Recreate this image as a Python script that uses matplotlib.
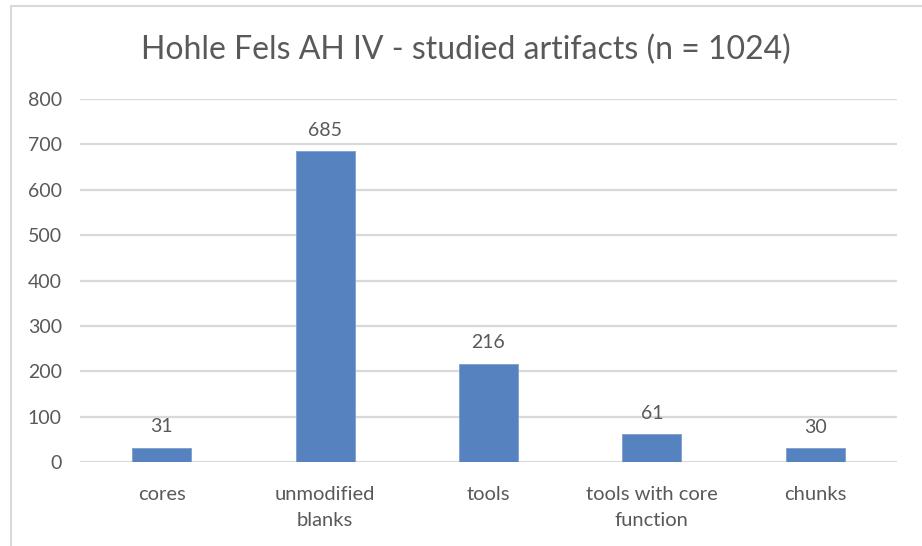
import matplotlib
matplotlib.use("Agg")
import matplotlib.pyplot as plt
from matplotlib.lines import Line2D

categories = ["cores", "unmodified\nblanks", "tools", "tools with core\nfunction", "chunks"]
values = [31, 685, 216, 61, 30]
yticks = [0, 100, 200, 300, 400, 500, 600, 700, 800]
title = "Hohle Fels AH IV - studied artifacts (n = 1024)"

plt.rcParams['font.family'] = ['Lato', 'DejaVu Sans']
txt = "#595959"

fig = plt.figure(figsize=(9.22, 5.46), dpi=100)
ax = fig.add_axes([80/922, 1-462/546, (897-80)/922, (462-99)/546])

x = list(range(len(categories)))
bars = ax.bar(x, values, width=0.36, color="#5683c0", edgecolor="#7a9fd2", linewidth=0.6, zorder=3)
for xi, v in zip(x, values):
    ax.annotate(str(v), (xi, v), xytext=(0, 9), textcoords="offset points",
                ha="center", va="bottom", fontsize=14, color=txt)

ax.set_xlim(-0.5, len(categories) - 0.5)
ax.set_ylim(0, 800)
ax.set_yticks(yticks)
ax.set_yticklabels([str(t) for t in yticks], fontsize=14, color=txt)
ax.set_xticks(x)
ax.set_xticklabels(categories, fontsize=14.5, color=txt, linespacing=1.65)
ax.tick_params(axis='both', length=0)
ax.tick_params(axis='y', pad=13)
ax.tick_params(axis='x', pad=17)
ax.yaxis.grid(True, color="#d9d9d9", linewidth=1.6, zorder=0)
ax.set_axisbelow(True)
for s in ax.spines.values():
    s.set_visible(False)

fig.text(466/922, 1-50/546, title, ha="center", va="center", fontsize=23, color=txt)

# outer chart border (left and top)
fig.add_artist(Line2D([11/922, 11/922], [0, 1-6/546], transform=fig.transFigure, color="#d9d9d9", linewidth=1.5))
fig.add_artist(Line2D([11/922, 1], [1-6/546, 1-6/546], transform=fig.transFigure, color="#d9d9d9", linewidth=1.5))

fig.savefig("out.png", dpi=100)
